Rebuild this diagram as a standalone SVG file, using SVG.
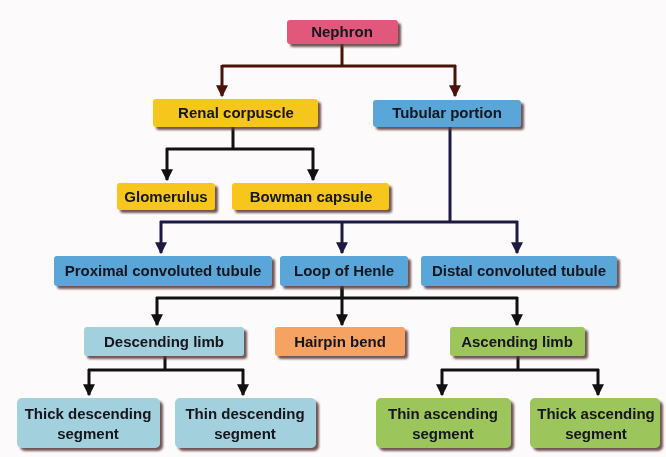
<svg xmlns="http://www.w3.org/2000/svg" width="666" height="457" viewBox="0 0 666 457">
<defs>
<filter id="sh" x="-10%" y="-20%" width="130%" height="160%">
<feDropShadow dx="3" dy="3" stdDeviation="1.2" flood-color="#5a3a3a" flood-opacity="0.85"/>
</filter>
<marker id="ab" viewBox="0 0 10 10" refX="9" refY="5" markerWidth="4" markerHeight="4" orient="auto" markerUnits="strokeWidth">
<path d="M0,0 L10,5 L0,10 z" fill="#4a1208"/>
</marker>
<marker id="an" viewBox="0 0 10 10" refX="9" refY="5" markerWidth="4" markerHeight="4" orient="auto" markerUnits="strokeWidth">
<path d="M0,0 L10,5 L0,10 z" fill="#1c1a40"/>
</marker>
<marker id="ak" viewBox="0 0 10 10" refX="9" refY="5" markerWidth="4" markerHeight="4" orient="auto" markerUnits="strokeWidth">
<path d="M0,0 L10,5 L0,10 z" fill="#111"/>
</marker>
</defs>
<style>
text{font-family:"Liberation Sans",Arial,sans-serif;font-weight:bold;font-size:15px;fill:#14141e;text-anchor:middle}
.box{filter:url(#sh)}
.pink{fill:#e2587c}
.yel{fill:#f6c61a}
.blue{fill:#5aa6d9}
.teal{fill:#a2d0dc}
.org{fill:#f5a263}
.grn{fill:#9cc65c}
.c{fill:none;stroke-width:3}
.cb{stroke:#4a1208}
.cn{stroke:#1c1a40}
.ck{stroke:#111}
</style>
<rect width="666" height="457" fill="#fcfafa"/>
<g id="connectors">
<path class="c cb" d="M342,44 V66 M222,66 H456"/>
<path class="c cb" d="M222,65 V96" marker-end="url(#ab)"/>
<path class="c cb" d="M455,65 V96" marker-end="url(#ab)"/>
<path class="c ck" d="M233,127 V149 M166,149 H314"/>
<path class="c ck" d="M167,148 V180" marker-end="url(#ak)"/>
<path class="c ck" d="M313,148 V180" marker-end="url(#ak)"/>
<path class="c cn" d="M450,127 V222 M160,222 H518"/>
<path class="c cn" d="M161,221 V253" marker-end="url(#an)"/>
<path class="c cn" d="M342,221 V253" marker-end="url(#an)"/>
<path class="c cn" d="M517,221 V253" marker-end="url(#an)"/>
<path class="c ck" d="M342,286 V298 M156,298 H518"/>
<path class="c ck" d="M157,297 V325" marker-end="url(#ak)"/>
<path class="c ck" d="M342,286 V325" marker-end="url(#ak)"/>
<path class="c ck" d="M517,297 V325" marker-end="url(#ak)"/>
<path class="c ck" d="M165,356 V370 M88,370 H244"/>
<path class="c ck" d="M89,369 V395" marker-end="url(#ak)"/>
<path class="c ck" d="M243,369 V395" marker-end="url(#ak)"/>
<path class="c ck" d="M518,356 V370 M441,370 H599"/>
<path class="c ck" d="M442,369 V395" marker-end="url(#ak)"/>
<path class="c ck" d="M598,369 V395" marker-end="url(#ak)"/>
</g>
<g id="nephron" class="box"><rect class="pink" x="287" y="20" width="111" height="24" rx="3"/><text x="342" y="37">Nephron</text></g>
<g id="renal-corpuscle" class="box"><rect class="yel" x="153" y="99" width="165" height="28" rx="3"/><text x="236" y="118">Renal corpuscle</text></g>
<g id="tubular-portion" class="box"><rect class="blue" x="373" y="100" width="148" height="27" rx="3"/><text x="447" y="118">Tubular portion</text></g>
<g id="glomerulus" class="box"><rect class="yel" x="117" y="183" width="98" height="27" rx="3"/><text x="166" y="202">Glomerulus</text></g>
<g id="bowman-capsule" class="box"><rect class="yel" x="232" y="183" width="157" height="27" rx="3"/><text x="311" y="202">Bowman capsule</text></g>
<g id="pct" class="box"><rect class="blue" x="54" y="256" width="218" height="30" rx="3"/><text x="163" y="276">Proximal convoluted tubule</text></g>
<g id="loop-of-henle" class="box"><rect class="blue" x="280" y="256" width="128" height="30" rx="3"/><text x="344" y="276">Loop of Henle</text></g>
<g id="dct" class="box"><rect class="blue" x="421" y="256" width="196" height="30" rx="3"/><text x="519" y="276">Distal convoluted tubule</text></g>
<g id="descending-limb" class="box"><rect class="teal" x="84" y="327" width="160" height="29" rx="3"/><text x="164" y="347">Descending limb</text></g>
<g id="hairpin-bend" class="box"><rect class="org" x="275" y="327" width="130" height="29" rx="3"/><text x="340" y="347">Hairpin bend</text></g>
<g id="ascending-limb" class="box"><rect class="grn" x="450" y="327" width="135" height="29" rx="3"/><text x="517" y="347">Ascending limb</text></g>
<g id="thick-descending" class="box"><rect class="teal" x="17" y="398" width="143" height="50" rx="5"/><text x="88" y="419">Thick descending</text><text x="88" y="439">segment</text></g>
<g id="thin-descending" class="box"><rect class="teal" x="175" y="398" width="141" height="50" rx="5"/><text x="245" y="419">Thin descending</text><text x="245" y="439">segment</text></g>
<g id="thin-ascending" class="box"><rect class="grn" x="376" y="398" width="135" height="50" rx="5"/><text x="443" y="419">Thin ascending</text><text x="443" y="439">segment</text></g>
<g id="thick-ascending" class="box"><rect class="grn" x="530" y="398" width="130" height="50" rx="5"/><text x="596" y="419">Thick ascending</text><text x="596" y="439">segment</text></g>
</svg>
